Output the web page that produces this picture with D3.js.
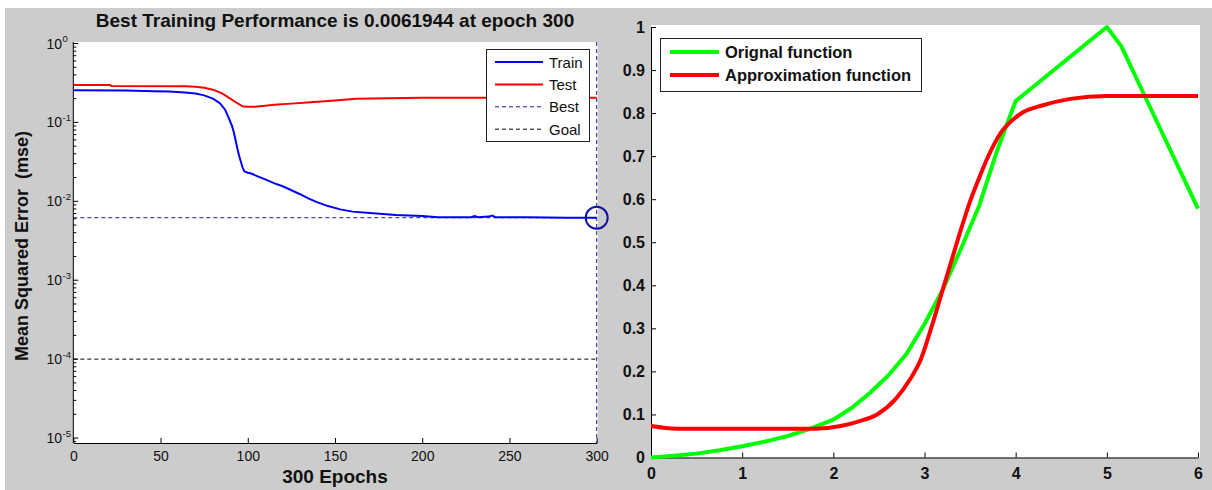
<!DOCTYPE html>
<html>
<head>
<meta charset="utf-8">
<script src="https://cdn.jsdelivr.net/npm/d3@7"></script>
<style>
  html, body { margin: 0; padding: 0; background: #ffffff; }
  svg { display: block; font-family: "Liberation Sans", Arial, sans-serif; }
  text { white-space: pre; }
</style>
</head>
<body>
<svg id="fig" width="1212" height="490"></svg>
<script>
// ---------- training performance (left panel) ----------
const trainEpochs = [0, 30, 46, 55, 64, 70, 75, 80, 84, 87, 89, 91, 92, 93, 94, 95, 96, 97, 98, 100,
  102, 105, 110, 115, 120, 125, 130, 135, 140, 146, 153, 160, 170, 185, 200, 209, 228, 230, 232, 238,
  240, 242, 260, 283, 300];
const trainMse = [0.256, 0.253, 0.249, 0.246, 0.24, 0.232, 0.22, 0.2, 0.175, 0.145, 0.115, 0.09, 0.075, 0.06, 0.047, 0.038, 0.032, 0.027, 0.024, 0.023,
  0.0225, 0.021, 0.019, 0.017, 0.0155, 0.0138, 0.0123, 0.0108, 0.0097, 0.0087, 0.0079, 0.0074, 0.0071, 0.0067, 0.0065, 0.0063, 0.0063, 0.0065, 0.0063, 0.0064,
  0.0066, 0.0063, 0.0063, 0.0062, 0.0061944];
const testEpochs = [0, 21, 22, 64, 70, 75, 80, 85, 90, 94, 97, 100, 104, 110, 115, 125, 136, 150, 162, 200, 250, 300];
const testMse = [0.297, 0.297, 0.29, 0.287, 0.283, 0.275, 0.26, 0.235, 0.2, 0.175, 0.16, 0.158, 0.158, 0.163, 0.167, 0.173, 0.18, 0.19, 0.2, 0.205, 0.205, 0.205];
const bestEpoch = 300;
const bestPerf = 0.0061944;
const goalPerf = 1e-4;
const epochTicks = [0, 50, 100, 150, 200, 250, 300];
const mseExponents = [0, -1, -2, -3, -4, -5];
const perfLegend = ["Train", "Test", "Best", "Goal"];

// ---------- function approximation (right panel) ----------
const origX = [0, 0.25, 0.5, 0.75, 1, 1.25, 1.5, 1.75, 2, 2.2, 2.4, 2.6, 2.8, 3, 3.2, 3.4, 3.6, 3.8, 4, 4.5, 5, 5.16, 5.42, 6];
const origY = [0, 0.004, 0.009, 0.017, 0.026, 0.037, 0.05, 0.067, 0.088, 0.115, 0.15, 0.19, 0.24, 0.31, 0.39, 0.485, 0.585, 0.715, 0.828, 0.914, 1, 0.955, 0.838, 0.578];
const approxX = [0, 0.28, 1, 1.8, 2.08, 2.28, 2.48, 2.68, 2.84, 2.96, 3.08, 3.2, 3.3, 3.4, 3.5, 3.6, 3.7, 3.84, 4.0, 4.08, 4.28, 4.6, 5, 6];
const approxY = [0.073, 0.067, 0.067, 0.067, 0.073, 0.084, 0.1, 0.135, 0.181, 0.228, 0.305, 0.39, 0.46, 0.53, 0.595, 0.65, 0.7, 0.755, 0.79, 0.802, 0.817, 0.833, 0.84, 0.84];
const fxTicks = [0, 1, 2, 3, 4, 5, 6];
const fyTicks = [0, 0.1, 0.2, 0.3, 0.4, 0.5, 0.6, 0.7, 0.8, 0.9, 1];
const fnLegend = ["Orignal function", "Approximation function"];

const svg = d3.select("#fig");

// figure background
svg.append("rect").attr("x", 5).attr("y", 8).attr("width", 1207).attr("height", 482).attr("fill", "#cccccc");

// ================= left panel =================
const L = { left: 73.3, right: 596.7, top: 43.5, bottom: 443 };
const xE = d3.scaleLinear().domain([0, 300]).range([L.left, L.right]);
const yM = d3.scaleLog().domain([1, 8.65e-6]).range([L.top, L.bottom]);

svg.append("rect").attr("x", L.left).attr("y", 42).attr("width", L.right - L.left + 1).attr("height", L.bottom - 42)
  .attr("fill", "#ffffff");

// bottom axis
const gxL = svg.append("g").attr("transform", `translate(0,${L.bottom})`)
  .call(d3.axisBottom(xE).tickValues(epochTicks).tickFormat(d3.format("d")).tickSize(-5).tickSizeOuter(0).tickPadding(8));
gxL.select(".domain").attr("stroke", "#000");
gxL.selectAll(".tick line").attr("stroke", "#000");
gxL.selectAll("text").attr("font-size", 14).attr("fill", "#111").attr("font-family", "Liberation Sans, Arial, sans-serif");

// left log axis
svg.append("line").attr("x1", L.left).attr("x2", L.left).attr("y1", 42).attr("y2", L.bottom).attr("stroke", "#000");
const minorVals = [];
for (let e = -6; e <= -1; e++) for (let k = 2; k <= 9; k++) {
  const v = k * Math.pow(10, e);
  if (v <= 1 && v >= 8.65e-6) minorVals.push(v);
}
svg.selectAll("line.minor").data(minorVals).join("line").attr("class", "minor")
  .attr("x1", L.left).attr("x2", L.left + 3).attr("y1", d => yM(d)).attr("y2", d => yM(d)).attr("stroke", "#000");
svg.selectAll("line.major").data(mseExponents).join("line").attr("class", "major")
  .attr("x1", L.left).attr("x2", L.left + 5).attr("y1", d => yM(Math.pow(10, d))).attr("y2", d => yM(Math.pow(10, d))).attr("stroke", "#000");
const yLab = svg.selectAll("g.ylab").data(mseExponents).join("g").attr("class", "ylab")
  .attr("transform", d => `translate(0,${yM(Math.pow(10, d))})`);
yLab.append("text").attr("x", 62).attr("y", 5).attr("text-anchor", "end").attr("font-size", 14).attr("fill", "#111").text("10");
yLab.append("text").attr("x", 62.5).attr("y", -1.5).attr("font-size", 9.5).attr("fill", "#111").text(d => String(d));

// goal & best reference lines
svg.append("line").attr("x1", L.left).attr("x2", L.right).attr("y1", yM(goalPerf)).attr("y2", yM(goalPerf))
  .attr("stroke", "#000").attr("stroke-dasharray", "4,3");
svg.append("line").attr("x1", L.left).attr("x2", L.right).attr("y1", yM(bestPerf)).attr("y2", yM(bestPerf))
  .attr("stroke", "#1a1aa0").attr("stroke-dasharray", "4,3");
svg.append("line").attr("x1", xE(bestEpoch)).attr("x2", xE(bestEpoch)).attr("y1", 42).attr("y2", L.bottom)
  .attr("stroke", "#1a1aa0").attr("stroke-dasharray", "4,3");

const perfLine = d3.line().x(d => xE(d[0])).y(d => yM(d[1]));
svg.append("path").datum(d3.zip(testEpochs, testMse)).attr("d", perfLine)
  .attr("fill", "none").attr("stroke", "#ff0000").attr("stroke-width", 2);
svg.append("path").datum(d3.zip(trainEpochs, trainMse)).attr("d", perfLine)
  .attr("fill", "none").attr("stroke", "#0000ff").attr("stroke-width", 2);
svg.append("circle").attr("cx", xE(bestEpoch)).attr("cy", yM(bestPerf)).attr("r", 11)
  .attr("fill", "none").attr("stroke", "#1010a0").attr("stroke-width", 2);

// legend
const lgL = svg.append("g");
lgL.append("rect").attr("x", 486.5).attr("y", 49.5).attr("width", 103).attr("height", 92)
  .attr("fill", "#fff").attr("stroke", "#222");
const lgStyles = [
  { c: "#0000ff", w: 2, dash: null },
  { c: "#ff0000", w: 2, dash: null },
  { c: "#1a1aa0", w: 1, dash: "4,3" },
  { c: "#000000", w: 1, dash: "4,3" }
];
perfLegend.forEach((name, i) => {
  const cy = 62 + i * 22.4;
  lgL.append("line").attr("x1", 495).attr("x2", 543).attr("y1", cy).attr("y2", cy)
    .attr("stroke", lgStyles[i].c).attr("stroke-width", lgStyles[i].w).attr("stroke-dasharray", lgStyles[i].dash);
  lgL.append("text").attr("x", 549).attr("y", cy + 5.5).attr("font-size", 15).attr("fill", "#111").text(name);
});

// titles
svg.append("text").attr("x", 335).attr("y", 27).attr("text-anchor", "middle").attr("font-size", 19)
  .attr("font-weight", "bold").attr("fill", "#111").text("Best Training Performance is 0.0061944 at epoch 300");
svg.append("text").attr("x", 335).attr("y", 483).attr("text-anchor", "middle").attr("font-size", 19)
  .attr("font-weight", "bold").attr("fill", "#111").text("300 Epochs");
svg.append("text").attr("transform", "translate(28,246) rotate(-90)").attr("text-anchor", "middle").attr("font-size", 18)
  .attr("font-weight", "bold").attr("fill", "#111").text("Mean Squared Error  (mse)");

// ================= right panel =================
const R = { left: 651, right: 1198, top: 27, bottom: 457.5 };
const xF = d3.scaleLinear().domain([0, 6]).range([R.left, R.right]);
const yF = d3.scaleLinear().domain([0, 1]).range([R.bottom, R.top]);

svg.append("rect").attr("x", R.left).attr("y", 25).attr("width", R.right - R.left + 2).attr("height", R.bottom - 25)
  .attr("fill", "#ffffff");

const gxR = svg.append("g").attr("transform", `translate(0,${R.bottom})`)
  .call(d3.axisBottom(xF).tickValues(fxTicks).tickFormat(d3.format("d")).tickSize(-5).tickSizeOuter(0).tickPadding(10));
const gyR = svg.append("g").attr("transform", `translate(${R.left},0)`)
  .call(d3.axisLeft(yF).tickValues(fyTicks).tickFormat(d => d === 0 || d === 1 ? String(d) : d3.format(".1f")(d))
    .tickSize(-5).tickSizeOuter(0).tickPadding(6));
[gxR, gyR].forEach(g => {
  g.select(".domain").attr("stroke", "#000");
  g.selectAll(".tick line").attr("stroke", "#000");
  g.selectAll("text").attr("font-size", 16).attr("font-weight", "bold").attr("fill", "#111")
    .attr("font-family", "Liberation Sans, Arial, sans-serif");
});

const fnLine = d3.line().x(d => xF(d[0])).y(d => yF(d[1]));
svg.append("path").datum(d3.zip(origX, origY)).attr("d", fnLine)
  .attr("fill", "none").attr("stroke", "#00ff00").attr("stroke-width", 4).attr("stroke-linejoin", "round");
svg.append("path").datum(d3.zip(approxX, approxY)).attr("d", fnLine.curve(d3.curveMonotoneX))
  .attr("fill", "none").attr("stroke", "#ff0000").attr("stroke-width", 4);

const lgR = svg.append("g");
lgR.append("rect").attr("x", 660.5).attr("y", 38.5).attr("width", 261).attr("height", 53)
  .attr("fill", "#fff").attr("stroke", "#222");
[["#00ff00", fnLegend[0]], ["#ff0000", fnLegend[1]]].forEach(([c, name], i) => {
  const cy = 52 + i * 23;
  lgR.append("line").attr("x1", 670).attr("x2", 719).attr("y1", cy).attr("y2", cy).attr("stroke", c).attr("stroke-width", 4);
  lgR.append("text").attr("x", 725).attr("y", cy + 6).attr("font-size", 16.5).attr("font-weight", "bold")
    .attr("fill", "#111").text(name);
});
</script>
</body>
</html>
